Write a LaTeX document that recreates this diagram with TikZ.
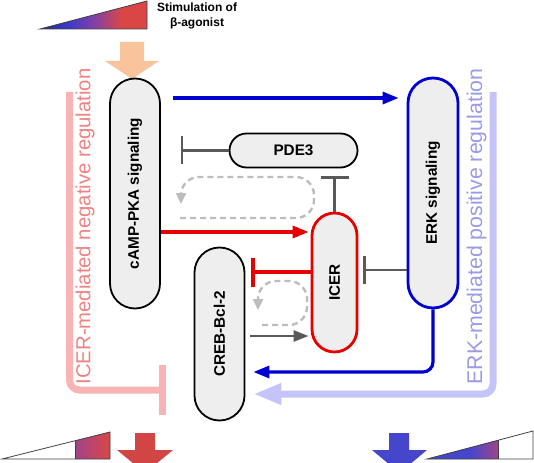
\documentclass[tikz,border=0pt]{standalone}
\usepackage{fontspec}
\setmainfont{Liberation Sans}
\usetikzlibrary{arrows.meta,calc}
\definecolor{nodefill}{HTML}{EEEEEE}
\definecolor{myred}{HTML}{E60000}
\definecolor{myblue}{HTML}{0000D0}
\definecolor{mygray}{HTML}{595959}
\definecolor{dashgray}{HTML}{BDBDBD}
\definecolor{pinkline}{HTML}{F8B4B4}
\definecolor{pinktext}{HTML}{F08282}
\definecolor{lbline}{HTML}{C4C4F8}
\definecolor{lbtext}{HTML}{9A9AE6}
\definecolor{peach}{HTML}{F9C49C}
\definecolor{arrred}{HTML}{D24545}
\definecolor{arrblue}{HTML}{4646CC}
\definecolor{gradblue}{HTML}{3A3AC8}
\definecolor{gradred}{HTML}{DA4646}
\definecolor{gradpurple}{HTML}{A0448A}
\definecolor{gradmid}{HTML}{8040A8}
\pgfdeclarehorizontalshading{topgrad}{100bp}{color(0bp)=(gradblue); color(25bp)=(gradblue!70!black); color(38bp)=(gradblue); color(50bp)=(gradmid); color(63bp)=(gradred); color(100bp)=(gradred)}
\pgfdeclarehorizontalshading{brgrad}{100bp}{color(0bp)=(arrblue); color(25bp)=(arrblue); color(55bp)=(arrblue); color(75bp)=(gradpurple); color(100bp)=(gradpurple)}
\begin{document}
\begin{tikzpicture}[x=1pt,y=-1pt,
  pill/.style={draw=black, line width=1.8pt, fill=nodefill, inner sep=0pt,
    font=\bfseries\fontsize{15.3}{18}\selectfont},
  bluearr/.style={draw=myblue, line width=3.2pt, -{Triangle[length=16pt,width=12pt]}},
  redarr/.style={draw=myred, line width=3.2pt, -{Triangle[length=16pt,width=12pt]}},
  grayarr/.style={draw=mygray, line width=2.5pt, -{Triangle[length=15pt,width=11pt]}},
  grayinh/.style={draw=mygray, line width=2.5pt, -{Bar[width=28pt]}},
  redinh/.style={draw=myred, line width=3.2pt, -{Bar[width=29pt]}},
  dashloop/.style={draw=dashgray, line width=2.4pt, dash pattern=on 6pt off 4pt,
    -{Triangle[length=11pt,width=10pt]}},
  lbarr/.style={draw=lbline, line width=7pt, -{Triangle[length=28pt,width=20pt]}},
  pinkinh/.style={draw=pinkline, line width=7pt, -{Bar[width=50pt]}},
  outl/.style={draw=black!75, line width=0.8pt}
]
\useasboundingbox (0,0) rectangle (534,462);
\clip (0,0) rectangle (534,462);

% top gradient triangle and label
\shade[shading=topgrad] (40,29) -- (147,29) -- (147,1) -- cycle;
\draw[outl] (40,29) -- (147,29) -- (147,1) -- cycle;
\node[font=\bfseries\fontsize{12}{15}\selectfont, align=center] (stim) at (197,15.5) {Stimulation of\\β-agonist};

% peach arrow
\fill[peach] (120,42) -- (144,42) -- (144,61) -- (159,61) -- (132,79) -- (105,61) -- (120,61) -- cycle;

% side regulation texts
\node[rotate=90, text=pinktext, font=\fontsize{20.3}{24}\selectfont] (negtxt) at (85,226.5) {ICER-mediated negative regulation};
\node[rotate=90, text=lbtext, font=\fontsize{21.3}{24}\selectfont] (postxt) at (476.5,226.5) {ERK-mediated positive regulation};

% nodes
\node[pill, minimum width=50pt, minimum height=230pt, rounded corners=25pt] (camp) at (135,193.5) {\rotatebox{90}{cAMP-PKA signaling}};
\node[pill, draw=myblue, line width=2.8pt, minimum width=50pt, minimum height=230pt, rounded corners=25pt] (erk) at (433,193) {\rotatebox{90}{ERK signaling}};
\node[pill, minimum width=128pt, minimum height=34pt, rounded corners=17pt] (pde) at (293.5,150.5) {PDE3};
\node[pill, draw=myred, line width=2.8pt, minimum width=45pt, minimum height=139pt, rounded corners=22.5pt] (icer) at (334.5,282.5) {\rotatebox{90}{ICER}};
\node[pill, minimum width=50pt, minimum height=173pt, rounded corners=25pt] (creb) at (219.5,334) {\rotatebox{90}{CREB-Bcl-2}};

% level coordinates
\coordinate (yA) at (0,98);
\coordinate (yR) at (0,232);
\coordinate (yI) at (0,272);
\coordinate (yE) at (0,270);
\coordinate (yC) at (0,336);
\coordinate (yB) at (0,372);
\coordinate (yL) at (0,394);

% connectors
\draw[bluearr, shorten <=12pt, shorten >=8pt] (camp.east |- yA) -- (erk.west |- yA);
\draw[grayinh, shorten >=20pt] (pde.west) -- (camp.east |- pde.west);
\draw[grayinh, shorten >=8pt] (icer.north) -- (icer.north |- pde.south);
\draw[redarr, shorten >=2pt] (camp.east |- yR) -- (icer.west |- yR);
\draw[redinh, shorten >=6pt] (icer.west |- yI) -- (creb.east |- yI);
\draw[grayarr, shorten <=5pt, shorten >=2pt] (creb.east |- yC) -- (icer.west |- yC);
\draw[grayinh, shorten >=5pt] (erk.west |- yE) -- (icer.east |- yE);
\draw[bluearr, rounded corners=10pt, shorten >=8pt] (erk.south) |- (creb.east |- yB);

% dashed self loops
\coordinate (la1) at (180,218);
\coordinate (la2) at (314,218);
\coordinate (la3) at (314,177);
\coordinate (la4) at (181,177);
\coordinate (la5) at (181,204);
\draw[dashloop, rounded corners=18pt] (la1) -- (la2) -- (la3) -- (la4) -- (la5);
\coordinate (lb1) at (262,325);
\coordinate (lb2) at (307,325);
\coordinate (lb3) at (307,281);
\coordinate (lb4) at (258,281);
\coordinate (lb5) at (258,310);
\draw[dashloop, rounded corners=18pt] (lb1) -- (lb2) -- (lb3) -- (lb4) -- (lb5);

% big regulation arrows
\coordinate (lbstart) at (493,92);
\draw[lbarr, rounded corners=10pt, shorten >=8pt] (lbstart) |- (creb.east |- yL);
\coordinate (pkstart) at (69.5,92);
\coordinate (pkend) at (165.5,390);
\draw[pinkinh, rounded corners=10pt] (pkstart) |- (pkend);

% bottom left triangle and arrow
\shade[left color=gradpurple, right color=gradred] (75,459) -- (110,459) -- (110,432) -- (75,440.75) -- cycle;
\draw[outl] (2,459) -- (110,459) -- (110,432) -- cycle;
\draw[outl] (75,459) -- (75,440.75);
\fill[arrred] (135,433) -- (155,433) -- (155,450) -- (173,450) -- (145,473) -- (117,450) -- (135,450) -- cycle;

% bottom right triangle and arrow
\shade[shading=brgrad] (427,459) -- (498,459) -- (498,440.25) -- cycle;
\draw[outl] (427,459) -- (533,459) -- (533,431) -- cycle;
\draw[outl] (498,459) -- (498,440.25);
\fill[arrblue] (389,433) -- (409,433) -- (409,450) -- (427,450) -- (399.5,473) -- (372,450) -- (389,450) -- cycle;
\end{tikzpicture}
\end{document}
